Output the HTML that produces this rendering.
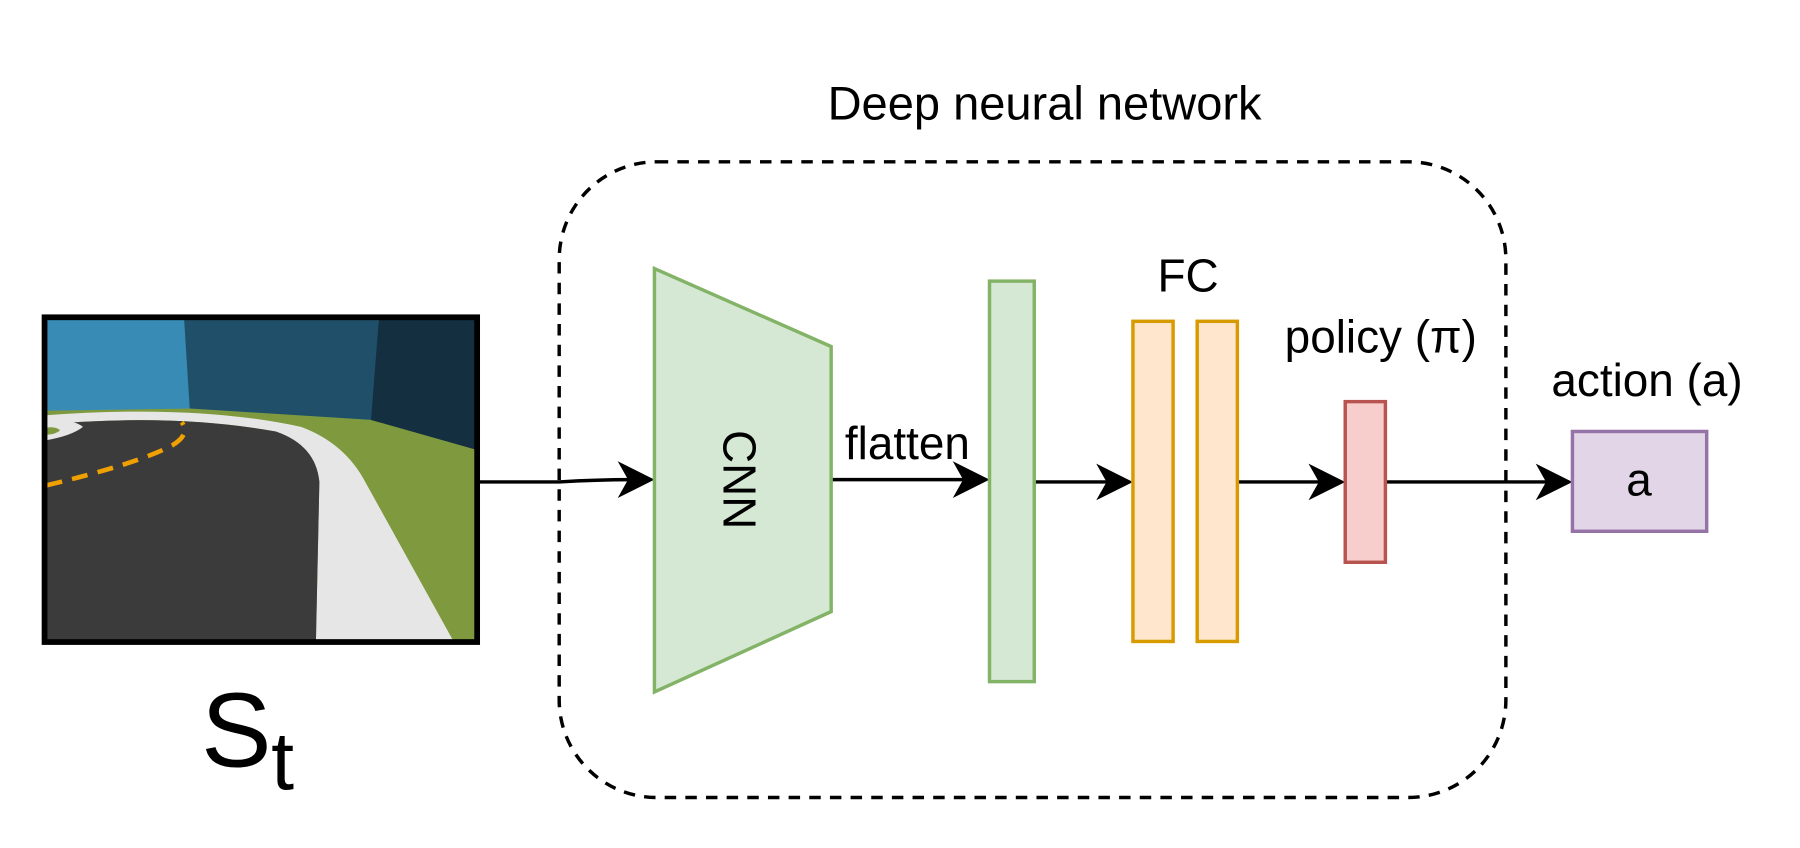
<!DOCTYPE html>
<html><head><meta charset="utf-8"><style>html,body{margin:0;padding:0;background:#fff}svg{display:block}</style></head>
<body>
<svg width="1800" height="848" viewBox="0 0 1568 739" xmlns="http://www.w3.org/2000/svg" font-family="Liberation Sans, Arial, sans-serif">
<rect width="1568" height="739" fill="#fff"/>
<text x="910" y="104" font-size="41" text-anchor="middle">Deep neural network</text>
<rect x="487" y="141" width="825" height="554" rx="85" fill="none" stroke="#000" stroke-width="3" stroke-dasharray="10,8"/>
<!-- image -->
<g>
<clipPath id="c"><rect x="38" y="276" width="377" height="283"/></clipPath>
<g clip-path="url(#c)">
<rect x="38" y="276" width="377" height="283" fill="#7f9a3e"/>
<polygon points="38,276 162,276 165,356 38,358" fill="#378bb5"/>
<polygon points="160,276 330,276 325,366 165,356" fill="#205069"/>
<polygon points="330,276 415,276 415,392 323,366" fill="#142f3f"/>
<path d="M38,362 Q170,352 262,372 Q300,386 318,420 L395,559 L275,559 L278,420 Q275,388 240,376 Q150,360 38,370 Z" fill="#e6e6e6"/>
<path d="M38,370 Q150,360 240,376 Q275,388 278,420 L275,559 L38,559 Z" fill="#3b3b3b"/>
<path d="M38,368 Q62,364 72,372 Q62,380 38,384 Z" fill="#e6e6e6"/>
<path d="M38,373 Q48,371 52,375 Q48,379 38,379Z" fill="#7f9a3e"/>
<path d="M40,423 Q120,404 150,388 Q166,378 158,368" fill="none" stroke="#f0a000" stroke-width="4" stroke-dasharray="14,9"/>
</g>
<rect x="38.5" y="276.5" width="377" height="283" fill="none" stroke="#000" stroke-width="5"/>
</g>
<text x="175" y="668" font-size="92">S</text><text x="236" y="688" font-size="72">t</text>
<!-- arrows -->
<g stroke="#000" stroke-width="3" fill="none">
<path d="M417,420 L487,420 Q520,418 550,418"/>
<line x1="724" y1="418" x2="842" y2="418"/>
<line x1="901" y1="420" x2="967" y2="420"/>
<line x1="1078" y1="420" x2="1152" y2="420"/>
<line x1="1207" y1="420" x2="1350" y2="420"/>
</g>
<g fill="#000">
<polygon points="570,418 538,402 547,418 538,434"/>
<polygon points="862,418 830,402 839,418 830,434"/>
<polygon points="987,420 955,404 964,420 955,436"/>
<polygon points="1172,420 1140,404 1149,420 1140,436"/>
<polygon points="1370,420 1338,404 1347,420 1338,436"/>
</g>
<polygon points="570,234 724,302 724,533 570,603" fill="#d5e8d4" stroke="#82b366" stroke-width="3"/>
<text transform="translate(630,418) rotate(90)" font-size="40" text-anchor="middle">CNN</text>
<text x="736" y="400" font-size="40">flatten</text>
<rect x="862" y="245" width="39" height="349" fill="#d5e8d4" stroke="#82b366" stroke-width="3"/>
<rect x="987" y="280" width="35" height="279" fill="#ffe6cc" stroke="#d79b00" stroke-width="3"/>
<rect x="1043" y="280" width="35" height="279" fill="#ffe6cc" stroke="#d79b00" stroke-width="3"/>
<text x="1035" y="254" font-size="40" text-anchor="middle">FC</text>
<rect x="1172" y="350" width="35" height="140" fill="#f8cecc" stroke="#b85450" stroke-width="3"/>
<text x="1203" y="307" font-size="40" text-anchor="middle">policy (π)</text>
<rect x="1370" y="376" width="117" height="87" fill="#e1d5e7" stroke="#9673a6" stroke-width="3"/>
<text x="1428" y="432" font-size="40" text-anchor="middle">a</text>
<text x="1435" y="345" font-size="40" text-anchor="middle">action (a)</text>
</svg>
</body></html>
